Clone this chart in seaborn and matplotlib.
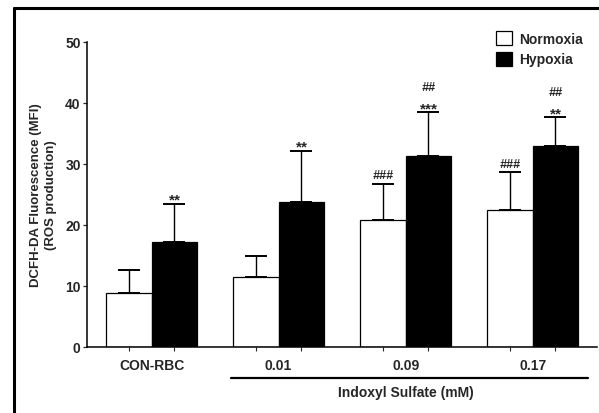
import matplotlib
matplotlib.use("Agg")
import matplotlib.pyplot as plt
from matplotlib.lines import Line2D
import seaborn as sns
import pandas as pd
import numpy as np

# Data: mean fluorescence and SD per treatment and oxygen condition
groups = ["CON-RBC", "0.01", "0.09", "0.17"]
conditions = ["Normoxia", "Hypoxia"]
normoxia_mean = [8.8, 11.4, 20.8, 22.4]
normoxia_sd = [3.7, 3.5, 5.9, 6.2]
hypoxia_mean = [17.2, 23.7, 31.3, 32.9]
hypoxia_sd = [6.2, 8.4, 7.1, 4.7]
# significance marks (upper line, lower line) above each bar
normoxia_marks = [("", ""), ("", ""), ("", "###"), ("", "###")]
hypoxia_marks = [("", "**"), ("", "**"), ("##", "***"), ("##", "**")]

df = pd.DataFrame({
    "group": groups * 2,
    "condition": ["Normoxia"] * 4 + ["Hypoxia"] * 4,
    "mfi": normoxia_mean + hypoxia_mean,
})

sns.set_theme(style="ticks")
plt.rcParams["font.family"] = ["Liberation Sans", "DejaVu Sans"]
plt.rcParams["font.weight"] = "bold"

fig = plt.figure(figsize=(5.99, 4.14), dpi=100)
ax = fig.add_axes([0.1452, 0.1601, 0.8515, 0.7368])

sns.barplot(data=df, x="group", y="mfi", hue="condition", order=groups,
            hue_order=conditions, palette={"Normoxia": "white", "Hypoxia": "black"},
            saturation=1, width=0.72, errorbar=None, edgecolor="black",
            linewidth=0.9, ax=ax, legend=True)

# one-sided SD error bars and significance marks
bar_centers = []
for cont, sds, marks in zip(ax.containers, [normoxia_sd, hypoxia_sd],
                            [normoxia_marks, hypoxia_marks]):
    xs = [p.get_x() + p.get_width() / 2 for p in cont.patches]
    hs = [p.get_height() for p in cont.patches]
    bar_centers += xs
    ax.errorbar(xs, hs, yerr=[np.zeros(len(sds)), sds], fmt="none",
                ecolor="black", elinewidth=1.0, capsize=8, capthick=1.4,
                zorder=1)
    for x, h, sd, (upper, lower) in zip(xs, hs, sds, marks):
        top = h + sd
        if lower:
            star = "*" in lower
            ax.annotate(lower, (x, top), xytext=(0, 3 if star else 6),
                        textcoords="offset points", ha="center", va="center",
                        fontsize=11 if star else 9, fontweight="bold",
                        style="normal" if star else "italic")
        if upper:
            ax.annotate(upper, (x, top), xytext=(0, 18),
                        textcoords="offset points", ha="center", va="center",
                        fontsize=9, fontweight="bold", style="italic")

ax.set_xlim(-0.509, 3.507)
ax.set_ylim(0, 50)
ax.set_yticks([0, 10, 20, 30, 40, 50])
ax.set_xticks(range(len(groups)))
ax.set_xticklabels(groups, fontsize=10, fontweight="bold")
ax.set_xticks(bar_centers, minor=True)
ax.tick_params(axis="x", which="major", length=0, pad=8)
ax.tick_params(axis="x", which="minor", length=3, width=0.8, direction="out")
ax.tick_params(axis="y", length=3, width=0.9, labelsize=10, pad=1.5)
for lbl in ax.get_yticklabels():
    lbl.set_fontweight("bold")
ax.set_xlabel("")
ax.set_ylabel("DCFH-DA Fluorescence (MFI)\n(ROS production)", fontsize=9.5,
              fontweight="bold", labelpad=6, linespacing=1.3)
sns.despine(ax=ax)
for s in ("left", "bottom"):
    ax.spines[s].set_linewidth(1.1)
    ax.spines[s].set_color("black")

# bracket line under the Indoxyl Sulfate concentrations
trans = ax.get_xaxis_transform()
ax.plot([0.625, 3.435], [-0.1026, -0.1026], color="black", lw=1.6,
        transform=trans, clip_on=False)
ax.text(2.0, -0.148, "Indoxyl Sulfate (mM)", transform=trans, ha="center",
        va="center", fontsize=10, fontweight="bold")

sns.move_legend(ax, loc="upper left", bbox_to_anchor=(0.777, 1.076),
                frameon=False, title=None, fontsize=10, handlelength=1.15,
                handleheight=1.15, handletextpad=0.55, labelspacing=0.45)
for t in ax.get_legend().get_texts():
    t.set_fontweight("bold")
for h in ax.get_legend().legend_handles:
    h.set_edgecolor("black")
    h.set_linewidth(0.9)

# panel frame along the left and top edges
fig.add_artist(Line2D([14 / 599, 14 / 599], [0, 1 - 9 / 414], color="black",
                      lw=2.2, transform=fig.transFigure))
fig.add_artist(Line2D([14 / 599, 1], [1 - 9 / 414, 1 - 9 / 414], color="black",
                      lw=2.2, transform=fig.transFigure))

fig.savefig("out.png", dpi=100, facecolor="white")
